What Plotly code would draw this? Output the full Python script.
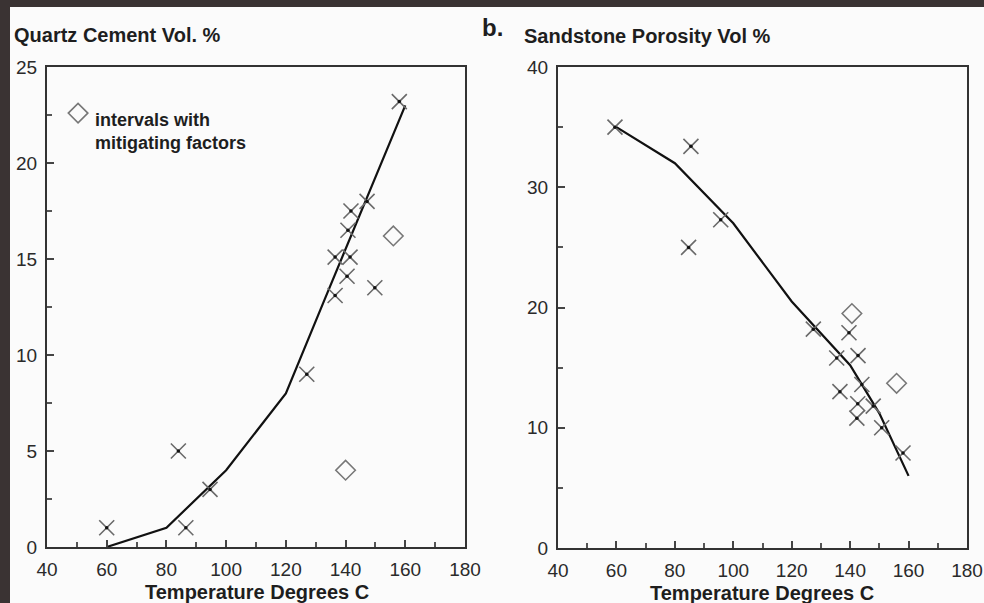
import plotly.graph_objects as go

# ---- Data: panel a (Quartz cement) ----
qc_line_T = [60, 80, 100, 110, 120, 133, 160]
qc_line_V = [0, 1, 4, 6, 8, 12.9, 23]
qc_pts_T = [60, 84, 86.5, 94.6, 127, 136.5, 136.5, 141.5, 140.5, 140.8, 141.8, 147.2, 149.8, 158]
qc_pts_V = [1, 5, 1, 3, 9, 13.1, 15.1, 15.1, 14.1, 16.5, 17.5, 18.0, 13.5, 23.2]
qc_dia_T = [140, 156]
qc_dia_V = [4, 16.2]

# ---- Data: panel b (Sandstone porosity) ----
po_line_T = [60, 80, 100, 120, 140, 150, 160]
po_line_V = [35, 32, 27, 20.5, 15.2, 11.2, 6]
po_pts_T = [59.5, 85.5, 84.7, 95.7, 127.4, 139.6, 142.7, 135.4, 136.5, 144, 142.6, 147.9, 142.3, 150.8, 158.1]
po_pts_V = [35, 33.4, 25, 27.3, 18.2, 17.9, 16.0, 15.8, 13.0, 13.6, 12.0, 11.8, 10.8, 10.0, 7.9]
po_dia_T = [140.6, 155.9]
po_dia_V = [19.5, 13.7]

legend_T = [50.4]
legend_V = [22.6]

W, H = 984, 603
fig = go.Figure()

LINE = dict(color="#111111", width=2.2)
XM = dict(symbol="x-thin-open", size=15, line=dict(color="#6a6a6a", width=1.6), color="#6a6a6a")
DOT = dict(symbol="circle", size=3.5, color="#111111")
DIA = dict(symbol="diamond-open", size=15, line=dict(color="#777777", width=1.6), color="#777777")

def add_panel(xa, ya, lt, lv, pt, pv, dt, dv):
    fig.add_trace(go.Scatter(x=lt, y=lv, mode="lines", line=LINE, xaxis=xa, yaxis=ya, showlegend=False))
    fig.add_trace(go.Scatter(x=pt, y=pv, mode="markers", marker=XM, xaxis=xa, yaxis=ya, showlegend=False))
    fig.add_trace(go.Scatter(x=pt, y=pv, mode="markers", marker=DOT, xaxis=xa, yaxis=ya, showlegend=False))
    fig.add_trace(go.Scatter(x=dt, y=dv, mode="markers", marker=DIA, xaxis=xa, yaxis=ya, showlegend=False))

add_panel("x", "y", qc_line_T, qc_line_V, qc_pts_T, qc_pts_V, qc_dia_T, qc_dia_V)
fig.add_trace(go.Scatter(x=legend_T, y=legend_V, mode="markers", marker=DIA, xaxis="x", yaxis="y", showlegend=False))
add_panel("x2", "y2", po_line_T, po_line_V, po_pts_T, po_pts_V, po_dia_T, po_dia_V)

TICKF = dict(family="Liberation Sans, Arial, sans-serif", size=19, color="#2a2a2a")
axcommon = dict(showline=True, linecolor="#333333", linewidth=2, mirror=True, ticks="inside",
                ticklen=7, tickcolor="#444444", tickwidth=1.5, showgrid=False, zeroline=False,
                tickfont=TICKF, automargin=False, ticklabelstandoff=4)

fig.update_layout(
    width=W, height=H,
    margin=dict(l=0, r=0, t=0, b=0, pad=0),
    paper_bgcolor="#3a3333",
    plot_bgcolor="rgba(0,0,0,0)",
    xaxis=dict(domain=[47/W, 465/W], range=[40, 180], dtick=20, tick0=40, anchor="y",
               minor=dict(dtick=10, ticks="inside", ticklen=5, tickcolor="#555"), **axcommon),
    yaxis=dict(domain=[1-547/H, 1-67/H], range=[0, 25], dtick=5, anchor="x",
               minor=dict(dtick=2.5, ticks="inside", ticklen=5, tickcolor="#555"), **axcommon),
    xaxis2=dict(domain=[558/W, 967/W], range=[40, 180], dtick=20, tick0=40, anchor="y2",
                minor=dict(dtick=10, ticks="inside", ticklen=5, tickcolor="#555"), **axcommon),
    yaxis2=dict(domain=[1-548/H, 1-67/H], range=[0, 40], dtick=10, anchor="x2",
                minor=dict(dtick=5, ticks="inside", ticklen=5, tickcolor="#555"), **axcommon),
    shapes=[dict(type="rect", xref="paper", yref="paper", x0=10/W, x1=1, y0=0, y1=1-7/H,
                 fillcolor="#fbfbfb", line=dict(width=0), layer="below")],
)

BOLD = "Liberation Sans, Arial, sans-serif"
def ann(text, x, y, size, xanchor="left", color="#1e1e1e"):
    fig.add_annotation(text=text, x=x/W, y=1-y/H, xref="paper", yref="paper", showarrow=False,
                       xanchor=xanchor, yanchor="middle", font=dict(family=BOLD, size=size, color=color))

ann("<b>Quartz Cement Vol. %</b>", 12, 35, 20)
ann("<b>b.</b>", 480, 27, 24)
ann("<b>Sandstone Porosity Vol %</b>", 522, 36, 20)
ann("<b>intervals with</b>", 93, 120, 18)
ann("<b>mitigating factors</b>", 93, 143, 18)
ann("<b>Temperature Degrees C</b>", 257, 592, 20, xanchor="center")
ann("<b>Temperature Degrees C</b>", 762, 593, 20, xanchor="center")

fig.write_html("out.html", config={"displayModeBar": False},
               post_script="document.body.style.margin='0';document.body.style.overflow='hidden';document.body.style.background='#3a3333';")
